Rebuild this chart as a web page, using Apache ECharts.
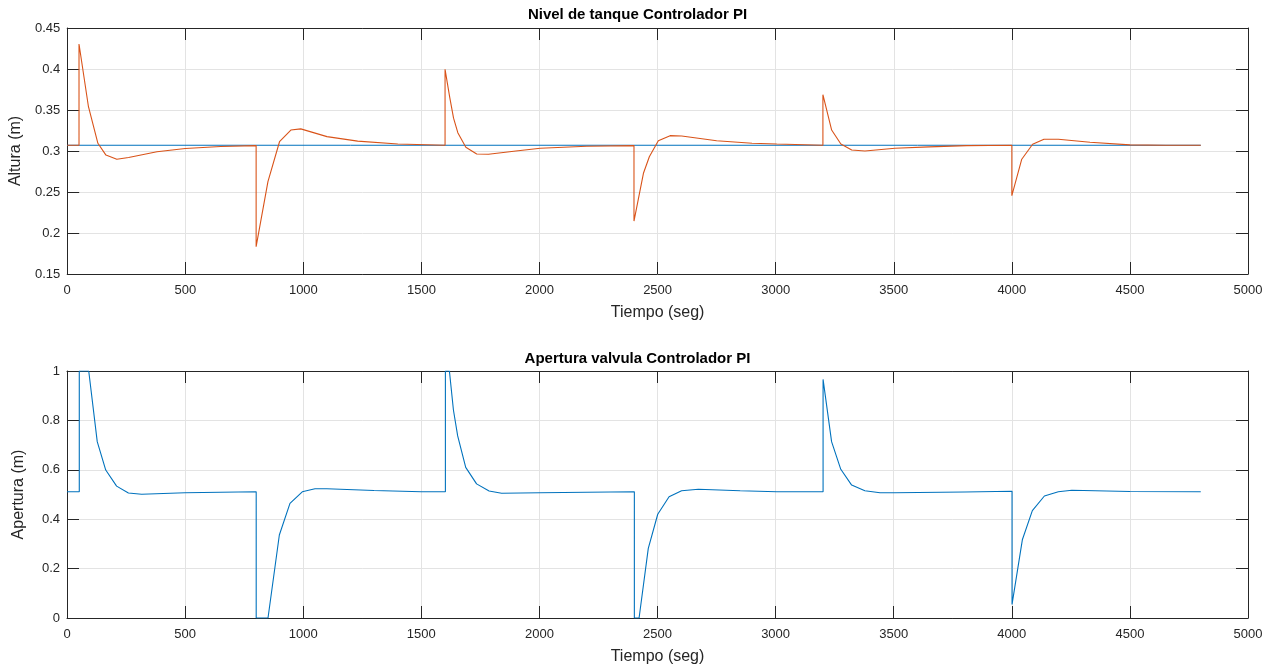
<!DOCTYPE html>
<html>
<head>
<meta charset="utf-8">
<script src="https://cdn.jsdelivr.net/npm/echarts@6/dist/echarts.min.js"></script>
<style>
  html, body { margin: 0; padding: 0; background: #fff; }
  #chart { width: 1275px; height: 667px; }
</style>
</head>
<body>
<div id="chart"></div>
<script>
// nivel del tanque (tiempo en seg, altura en m)
var levelTime = [0,50,50,90,130,164,210,260,380,500,650,800,800,850,899,947,989,1100,1230,1400,1600,1600,1620,1636,1654,1688,1734,1784,1900,2003,2200,2400,2400,2440,2465,2503,2553,2602,2750,2900,3005,3200,3200,3237,3276,3322,3378,3505,3650,3809,4000,4000,4042,4088,4136,4197,4331,4500,4650,4800];
var levelValue = [0.307,0.307,0.4305,0.354,0.3094,0.295,0.290,0.292,0.299,0.303,0.3055,0.3066,0.1833,0.2626,0.3113,0.3256,0.327,0.3175,0.312,0.3085,0.307,0.3996,0.365,0.340,0.3223,0.3045,0.2963,0.296,0.300,0.3033,0.3058,0.3066,0.2146,0.2728,0.293,0.3126,0.3187,0.3183,0.3125,0.3095,0.3085,0.307,0.3687,0.3256,0.3085,0.3012,0.300,0.3033,0.305,0.3065,0.307,0.2455,0.290,0.3082,0.3143,0.3143,0.3106,0.3075,0.307,0.307];

// referencia
var setpointTime = [0, 4800];
var setpointValue = [0.307, 0.307];

// apertura de la valvula
var valveTime = [0,52,52,92,128,164,210,260,316,500,650,801,801,851,899,944,996,1050,1100,1300,1500,1602,1602,1619,1636,1654,1688,1734,1787,1840,2003,2200,2402,2402,2422,2461,2501,2549,2602,2673,2850,3005,3201,3201,3237,3276,3322,3378,3442,3505,3800,4001,4001,4045,4087,4138,4197,4254,4500,4800];
var valveValue = [0.511,0.511,1,1,0.714,0.599,0.534,0.506,0.501,0.507,0.509,0.511,0,0,0.336,0.464,0.511,0.523,0.523,0.516,0.511,0.511,1,1,0.842,0.737,0.610,0.543,0.514,0.505,0.507,0.509,0.511,0,0,0.282,0.42,0.491,0.515,0.521,0.515,0.511,0.511,0.966,0.714,0.602,0.538,0.515,0.507,0.507,0.510,0.513,0.055,0.318,0.435,0.494,0.511,0.517,0.512,0.511];

function pairs(xs, ys) {
	var out = [];
	for (var i = 0; i < xs.length; i++) out.push([xs[i], ys[i]]);
	return out;
}

var FONT = '"Liberation Sans", Arial, sans-serif';
var INK = '#262626';
var GRIDC = '#e3e3e3';

function plain(v) { return String(+v.toFixed(2)); }

function mainX(grid) {
	return {
		type: 'value', gridIndex: grid, min: 0, max: 5000, interval: 500,
		name: 'Tiempo (seg)', nameLocation: 'middle', nameGap: 31,
		nameTextStyle: { color: INK, fontSize: 16, fontFamily: FONT },
		axisLine: { onZero: false, lineStyle: { color: INK, width: 1 } },
		axisTick: { inside: true, length: 12, lineStyle: { color: INK } },
		axisLabel: { color: INK, fontSize: 13, fontFamily: FONT, margin: 10, formatter: plain },
		splitLine: { show: true, lineStyle: { color: GRIDC, width: 1 } }
	};
}
function mirrorX(grid) {
	return {
		type: 'value', gridIndex: grid, position: 'top', min: 0, max: 5000, interval: 500,
		axisLine: { onZero: false, lineStyle: { color: INK, width: 1 } },
		axisTick: { inside: true, length: 12, lineStyle: { color: INK } },
		axisLabel: { show: false }, splitLine: { show: false }
	};
}
function mainY(grid, name, min, max, step) {
	return {
		type: 'value', gridIndex: grid, min: min, max: max, interval: step,
		name: name, nameLocation: 'middle', nameGap: 40,
		nameTextStyle: { color: INK, fontSize: 16, fontFamily: FONT },
		axisLine: { onZero: false, lineStyle: { color: INK, width: 1 } },
		axisTick: { inside: true, length: 12, lineStyle: { color: INK } },
		axisLabel: { color: INK, fontSize: 13, fontFamily: FONT, margin: 7, formatter: plain },
		splitLine: { show: true, lineStyle: { color: GRIDC, width: 1 } }
	};
}
function mirrorY(grid, min, max, step) {
	return {
		type: 'value', gridIndex: grid, position: 'right', min: min, max: max, interval: step,
		axisLine: { onZero: false, lineStyle: { color: INK, width: 1 } },
		axisTick: { inside: true, length: 12, lineStyle: { color: INK } },
		axisLabel: { show: false }, splitLine: { show: false }
	};
}

var chart = echarts.init(document.getElementById('chart'));

var option = {
	animation: false,
	backgroundColor: '#fff',
	title: [
		{ text: 'Nivel de tanque Controlador PI', left: 'center', top: 2,
		  textStyle: { color: '#000', fontSize: 15, fontWeight: 'bold', fontFamily: FONT } },
		{ text: 'Apertura valvula Controlador PI', left: 'center', top: 346,
		  textStyle: { color: '#000', fontSize: 15, fontWeight: 'bold', fontFamily: FONT } }
	],
	grid: [
		{ left: 67, right: 27, top: 28, height: 246 },
		{ left: 67, right: 27, top: 371, height: 247 }
	],
	xAxis: [mainX(0), mirrorX(0), mainX(1), mirrorX(1)],
	yAxis: [
		mainY(0, 'Altura (m)', 0.15, 0.45, 0.05), mirrorY(0, 0.15, 0.45, 0.05),
		mainY(1, 'Apertura (m)', 0, 1, 0.2), mirrorY(1, 0, 1, 0.2)
	],
	series: [
		{
			name: 'Referencia', type: 'line', xAxisIndex: 0, yAxisIndex: 0,
			data: pairs(setpointTime, setpointValue), showSymbol: false,
			lineStyle: { color: '#0072BD', width: 1 }
		},
		{
			name: 'Nivel', type: 'line', xAxisIndex: 0, yAxisIndex: 0,
			data: pairs(levelTime, levelValue), showSymbol: false,
			lineStyle: { color: '#D95319', width: 1.1 }
		},
		{
			name: 'Apertura', type: 'line', xAxisIndex: 2, yAxisIndex: 2,
			data: pairs(valveTime, valveValue), showSymbol: false,
			lineStyle: { color: '#0072BD', width: 1.1 }
		}
	]
};

chart.setOption(option);
</script>
</body>
</html>
